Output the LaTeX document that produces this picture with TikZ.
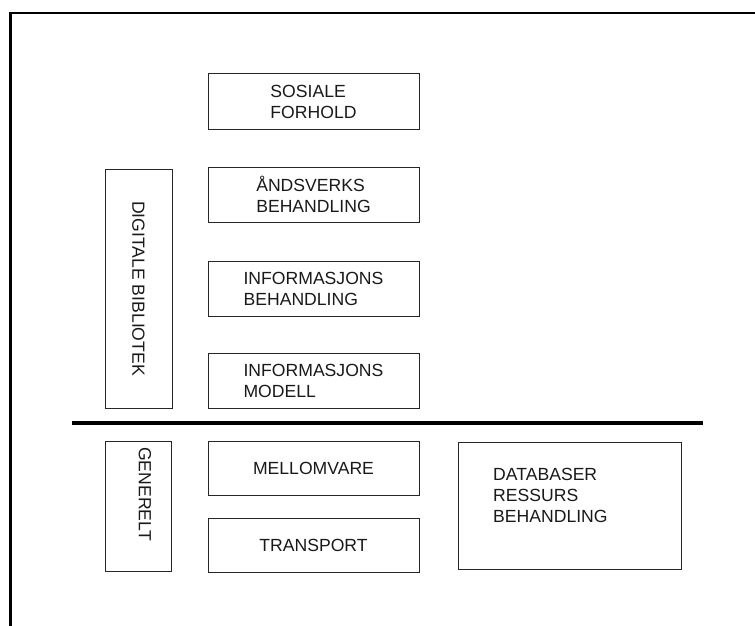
\documentclass[tikz,border=0pt]{standalone}
\usepackage{fontspec}
\setmainfont{Liberation Sans}
\begin{document}
\begin{tikzpicture}[x=1pt,y=-1pt,
  every node/.style={font=\fontsize{17.6}{21}\selectfont, text=black!90},
  layer/.style={draw=black!85, line width=1pt, inner sep=0pt, align=left},
  stackbox/.style={layer, minimum width=211pt, minimum height=55pt},
  tag/.style={rotate=-90, inner sep=0pt},
  frame/.style={line width=2.6pt},
  divider/.style={line width=4pt}]
  \useasboundingbox (0,0) rectangle (755,626);

  % outer frame (top and left edges)
  \draw[frame] (9,13) -- (755,13);
  \draw[frame] (10.5,11.7) -- (10.5,626);

  % digital library layers
  \node[stackbox] (sos)  at (313.5,101.5) {SOSIALE\\FORHOLD};
  \node[stackbox] (ands) at (313.5,194.5) {ÅNDSVERKS\\BEHANDLING};
  \node[stackbox] (infb) at (313.5,288.5) {INFORMASJONS\\BEHANDLING};
  \node[stackbox] (infm) at (313.5,380.5) {INFORMASJONS\\MODELL};
  \node[layer, minimum width=239pt, minimum height=67pt, rotate=-90] (dig)
    at (138.5,288.5) {DIGITALE BIBLIOTEK};

  % separating rule
  \coordinate (ruleL) at (72,423);
  \coordinate (ruleR) at (703,423);
  \draw[divider] (ruleL) -- (ruleR);

  % general layers
  \node[stackbox, minimum height=54pt] (mell)  at (313.5,468) {MELLOMVARE};
  \node[stackbox, minimum height=54pt] (trans) at (313.5,545) {TRANSPORT};
  \node[layer, minimum width=66pt, minimum height=130pt] (gen) at (138,506) {};
  \node[tag] (genlabel) at (145,494) {GENERELT};

  % database resource handling
  \node[layer, minimum width=223pt, minimum height=127pt] (db) at (569.5,505.5) {};
  \node[anchor=base west, align=left, inner sep=0pt] (dblabel) at (493,522)
    {DATABASER\\RESSURS\\BEHANDLING};
\end{tikzpicture}
\end{document}
